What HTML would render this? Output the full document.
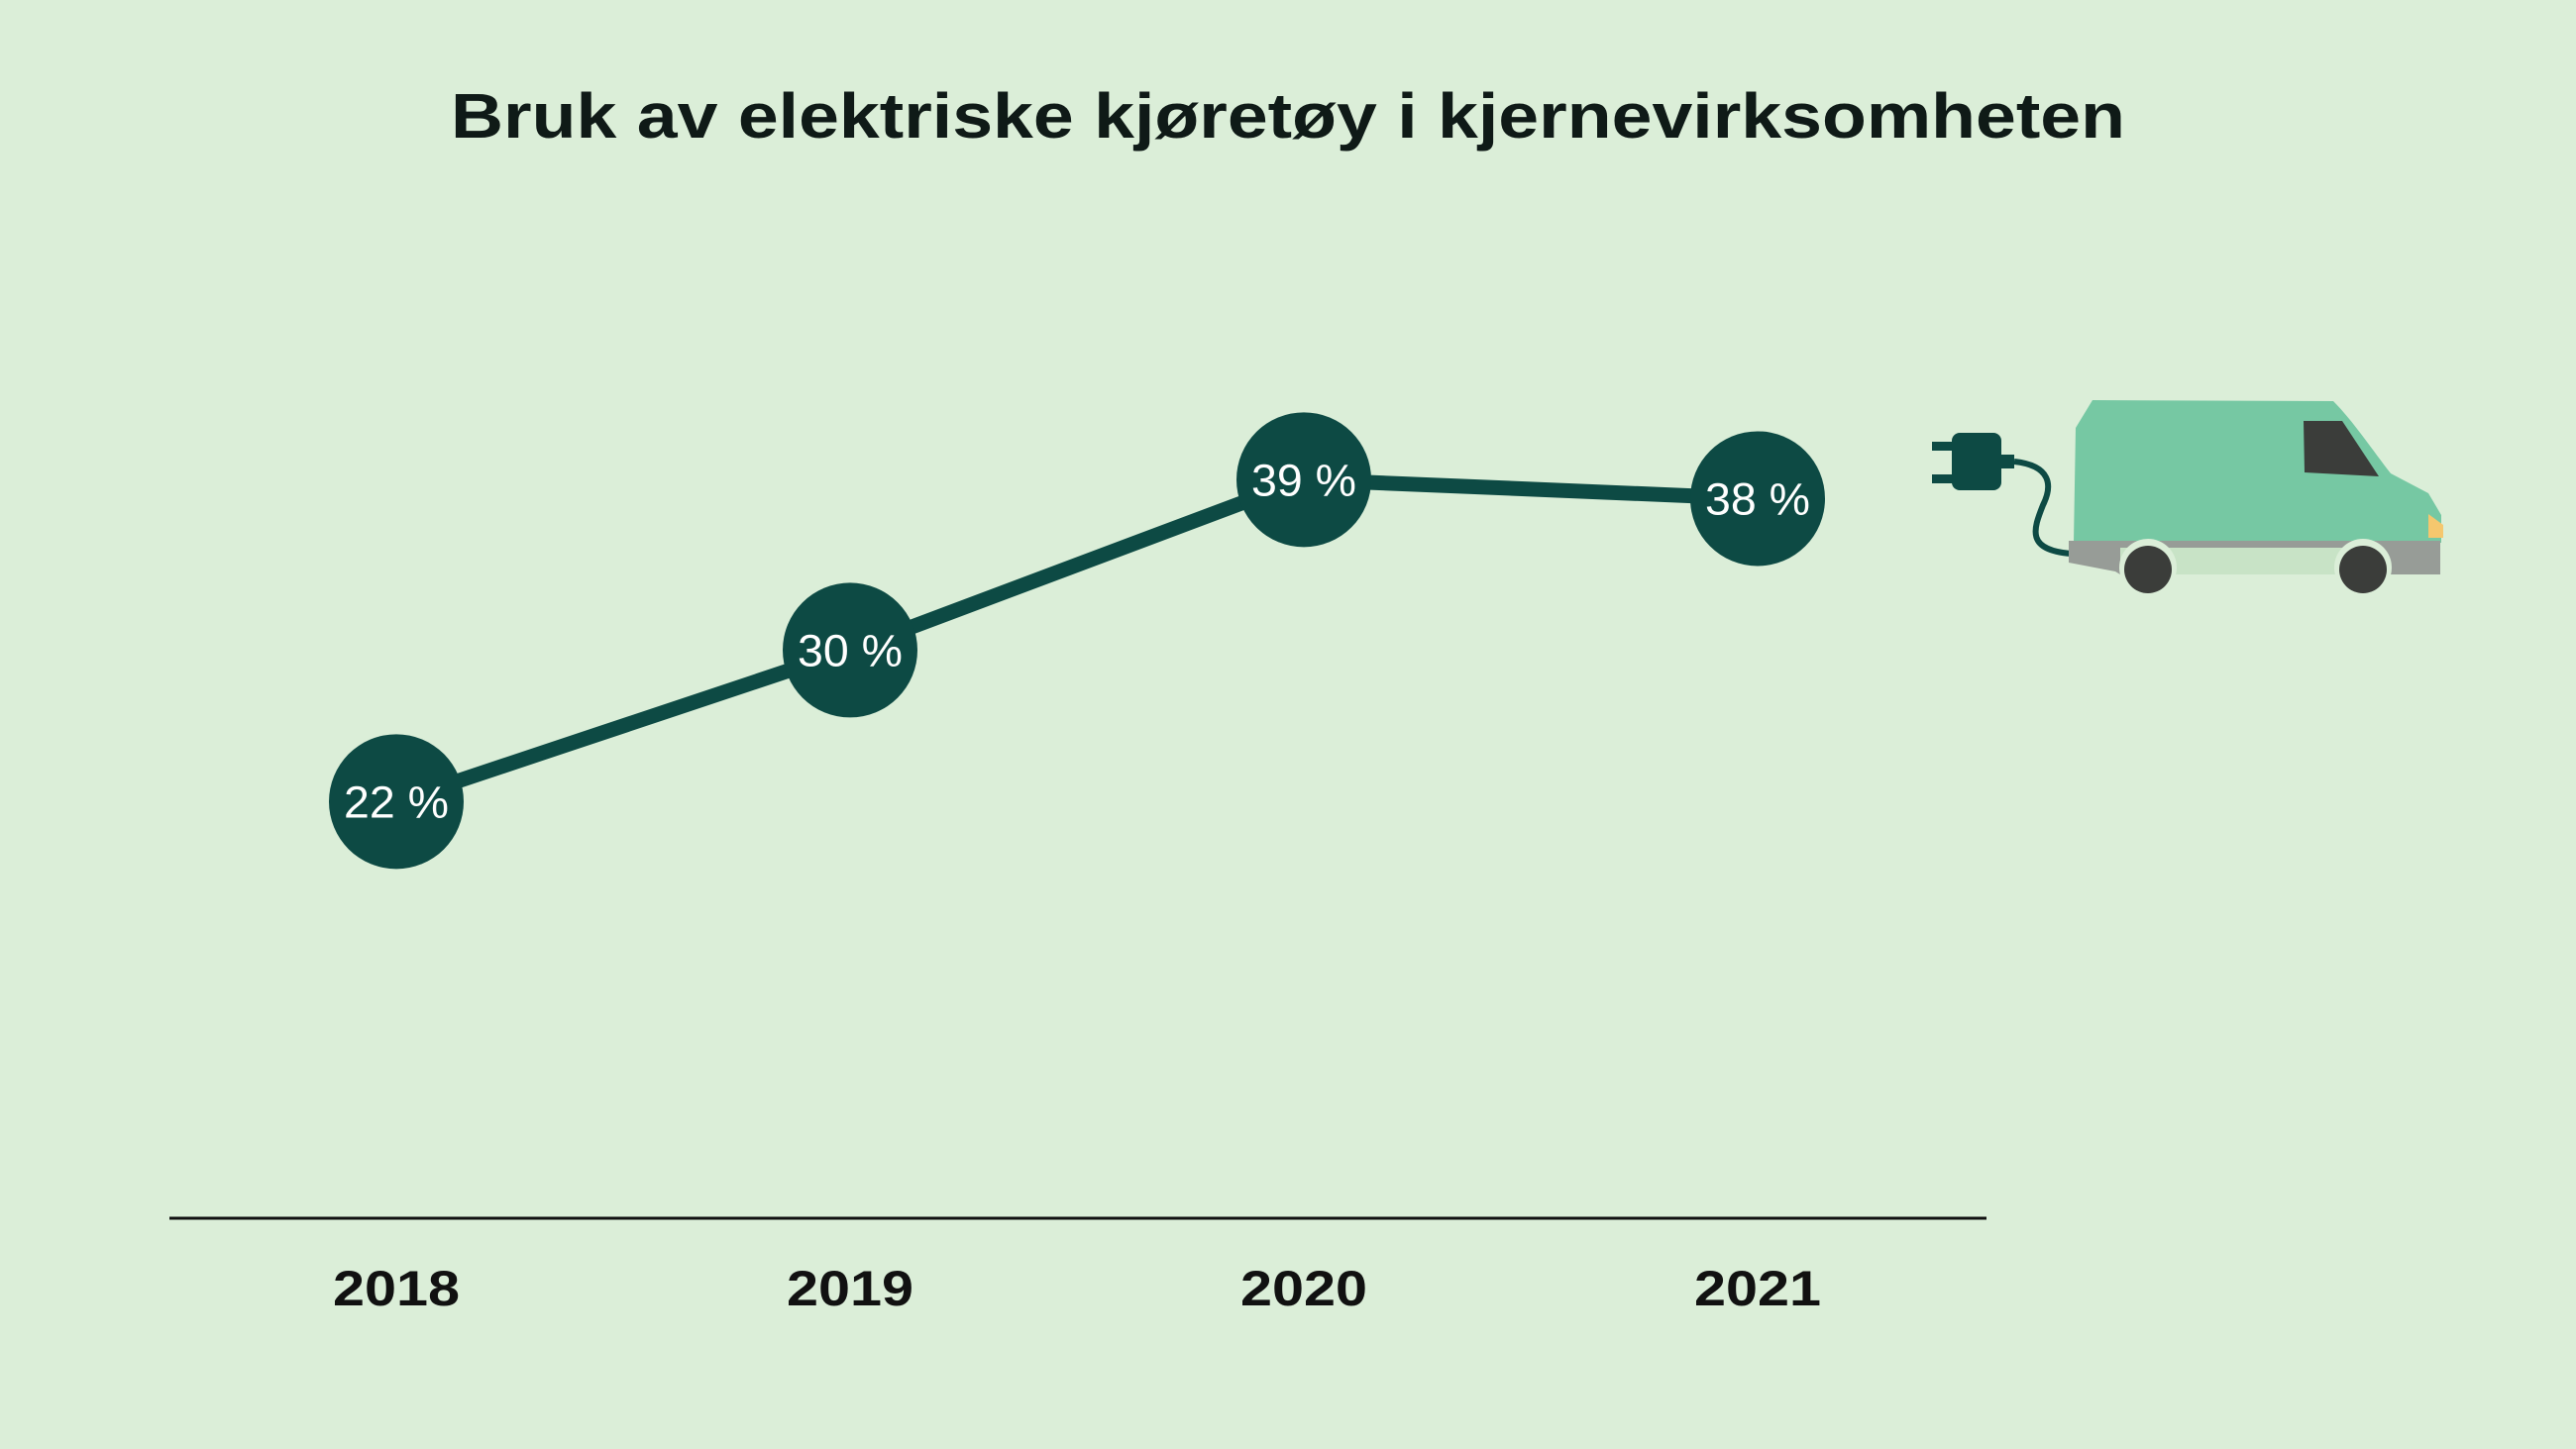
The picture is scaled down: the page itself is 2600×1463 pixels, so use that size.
<!DOCTYPE html>
<html><head><meta charset="utf-8"><style>
html,body{margin:0;padding:0;background:#dbeed8;}
svg{display:block;font-family:"Liberation Sans",sans-serif;}
</style></head><body>
<svg id="chart" width="2600" height="1463" viewBox="0 0 2600 1463">
<rect width="2600" height="1463" fill="#dbeed8"/>
<text x="1300" y="139" text-anchor="middle" font-size="64" font-weight="bold" fill="#0f1a17" textLength="1690" lengthAdjust="spacingAndGlyphs">Bruk av elektriske kjøretøy i kjernevirksomheten</text>
<line x1="171" y1="1230" x2="2005" y2="1230" stroke="#111" stroke-width="3"/>
<g id="xlabels"></g>
<g id="series"></g>
<g>
 <rect x="1950" y="446" width="22" height="9" fill="#0d4a44"/>
 <rect x="1950" y="479" width="22" height="9" fill="#0d4a44"/>
 <rect x="1970" y="437" width="50" height="58" rx="8" fill="#0d4a44"/>
 <rect x="2018" y="459" width="15" height="14" fill="#0d4a44"/>
 <path d="M2033 466 C2070 470 2072 490 2062 510 C2052 535 2045 555 2090 559" fill="none" stroke="#0d4a44" stroke-width="6"/>
 <path d="M2095 432 L2112 404 L2355 405 C2375 425 2395 455 2413 478 L2451 498 L2464 520 L2464 548 L2093 548 Z" fill="#76c8a3"/>
 <path d="M2325 425 L2364 425 L2401 481 L2326 477 Z" fill="#3b3d3a"/>
 <path d="M2451 519 L2466 530 L2466 543 L2451 543 Z" fill="#f5c76e"/>
 <path d="M2088 546 L2463 546 L2463 580 L2088 580 L2088 568 Z" fill="#979c97"/>
 <path d="M2088 568 L2135 577 L2140 580 L2088 580 Z" fill="#dbeed8"/>
 <rect x="2140" y="553" width="240" height="27" fill="#c8e3c6"/>
 <circle cx="2168" cy="573" r="29" fill="#dbeed8"/>
 <circle cx="2168" cy="575" r="24" fill="#3b3d3a"/>
 <circle cx="2385" cy="573" r="29" fill="#dbeed8"/>
 <circle cx="2385" cy="575" r="24" fill="#3b3d3a"/>
</g>
</svg>
<script>
const categories = ["2018","2019","2020","2021"];
const values = [22, 30, 39, 38];
const valueLabels = ["22 %","30 %","39 %","38 %"];
const NS="http://www.w3.org/2000/svg";
function xPos(i){ return 400 + i*458; }
function yPos(v){ return 1230 - v*19.12; }
const xg=document.getElementById('xlabels'), sg=document.getElementById('series');
categories.forEach((c,i)=>{
  const t=document.createElementNS(NS,'text');
  
  
  t.setAttribute('x',xPos(i)); t.setAttribute('y',1318);
  t.setAttribute('text-anchor','middle'); t.setAttribute('font-size','50'); t.setAttribute('font-weight','bold'); t.setAttribute('fill','#111');
  t.setAttribute('textLength','128'); t.setAttribute('lengthAdjust','spacingAndGlyphs');
  t.textContent=c; xg.appendChild(t);
});
const pl=document.createElementNS(NS,'polyline');


pl.setAttribute('points',values.map((v,i)=>xPos(i)+','+yPos(v)).join(' '));
pl.setAttribute('fill','none'); pl.setAttribute('stroke','#0d4a44'); pl.setAttribute('stroke-width','15');
sg.appendChild(pl);
values.forEach((v,i)=>{
  const c=document.createElementNS(NS,'circle');
  
  
  c.setAttribute('cx',xPos(i)); c.setAttribute('cy',yPos(v)); c.setAttribute('r',68); c.setAttribute('fill','#0d4a44');
  sg.appendChild(c);
  const t=document.createElementNS(NS,'text');
  
  
  t.setAttribute('x',xPos(i)); t.setAttribute('y',yPos(v)+16);
  t.setAttribute('text-anchor','middle'); t.setAttribute('font-size','45'); t.setAttribute('fill','#ffffff');
  t.setAttribute('textLength','106'); t.setAttribute('lengthAdjust','spacingAndGlyphs');
  t.textContent=valueLabels[i]; sg.appendChild(t);
});
</script>
</body></html>
